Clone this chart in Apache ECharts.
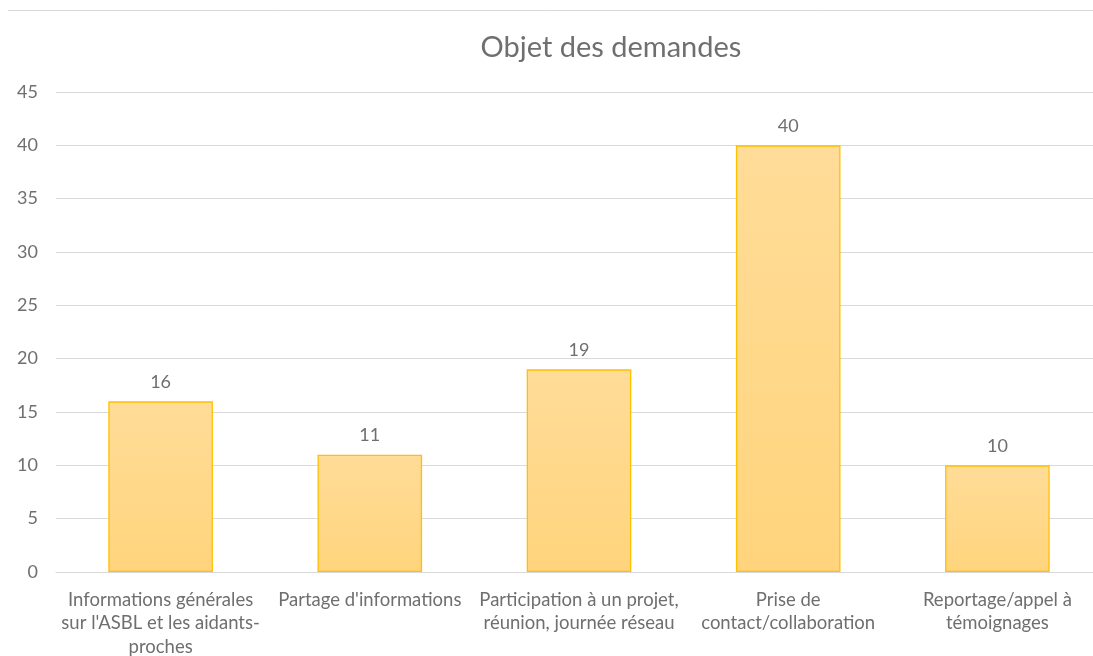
<!DOCTYPE html>
<html><head><meta charset="utf-8">
<script src="https://cdn.jsdelivr.net/npm/echarts@6/dist/echarts.min.js"></script>
<style>html,body{margin:0;padding:0;background:#fff}#c{width:1093px;height:656px}</style>
</head><body><div id="c"></div>
<script>
const categories = ["Informations générales\nsur l'ASBL et les aidants-\nproches", "Partage d'informations", "Participation à un projet,\nréunion, journée réseau", "Prise de\ncontact/collaboration", "Reportage/appel à\ntémoignages"];
const values = [16, 11, 19, 40, 10];
const yTicks = {min: 0, max: 45, interval: 5};
const titleText = "Objet des demandes";

const chart = echarts.init(document.getElementById('c'));
const FONT = 'Lato';
const TXT = '#6f6f6f';
chart.setOption({
  animation: false,
  backgroundColor: '#fff',
  title: {text: titleText, left: 606, top: 28, textAlign: 'center',
    textStyle: {fontFamily: FONT, fontSize: 29, fontWeight: 'normal', color: TXT}},
  graphic: [{type: 'line', shape: {x1: 8, y1: 10.5, x2: 1093, y2: 10.5}, style: {stroke: '#d9d9d9', lineWidth: 1}}],
  grid: {left: 56, top: 92, width: 1046, height: 480, containLabel: false, outerBoundsMode: 'none'},
  xAxis: {type: 'category', data: categories,
    axisLine: {lineStyle: {color: '#d9d9d9'}}, axisTick: {show: false},
    axisLabel: {interval: 0, fontFamily: FONT, fontSize: 18.5, color: TXT, lineHeight: 23.5, margin: 16}},
  yAxis: {type: 'value', min: yTicks.min, max: yTicks.max, interval: yTicks.interval,
    axisLine: {show: false}, axisTick: {show: false},
    splitLine: {lineStyle: {color: '#d9d9d9'}},
    axisLabel: {fontFamily: FONT, fontSize: 18, color: TXT, margin: 18}},
  series: [{type: 'bar', data: values, barWidth: '50%',
    itemStyle: {borderColor: '#FFC000', borderWidth: 1.3,
      color: new echarts.graphic.LinearGradient(0, 0, 0, 1, [{offset: 0, color: '#FFDC98'}, {offset: 1, color: '#FFD47C'}])},
    label: {show: true, position: 'top', distance: 10, fontFamily: FONT, fontSize: 18, color: TXT}}]
});
</script></body></html>
